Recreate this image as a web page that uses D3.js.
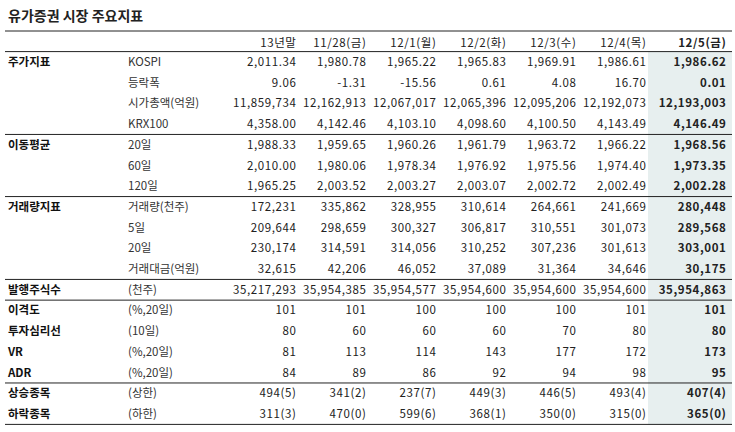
<!DOCTYPE html>
<html><head><meta charset="utf-8">
<script src="https://cdn.jsdelivr.net/npm/d3@7"></script>
<style>body{margin:0;background:#fff}text{font-family:"Noto Sans CJK KR","Noto Sans",sans-serif}</style>
</head><body><div id="chart"></div>
<script>
const dates = ["13년말","11/28(금)","12/1(월)","12/2(화)","12/3(수)","12/4(목)","12/5(금)"];
const groups = ["주가지표","","","","이동평균","","","거래량지표","","","","발행주식수","이격도","투자심리선","VR","ADR","상승종목","하락종목"];
const items = ["KOSPI","등락폭","시가총액(억원)","KRX100","20일","60일","120일","거래량(천주)","5일","20일","거래대금(억원)","(천주)","(%,20일)","(10일)","(%,20일)","(%,20일)","(상한)","(하한)"];
const values = [
  ["2,011.34","1,980.78","1,965.22","1,965.83","1,969.91","1,986.61","1,986.62"],
  ["9.06","-1.31","-15.56","0.61","4.08","16.70","0.01"],
  ["11,859,734","12,162,913","12,067,017","12,065,396","12,095,206","12,192,073","12,193,003"],
  ["4,358.00","4,142.46","4,103.10","4,098.60","4,100.50","4,143.49","4,146.49"],
  ["1,988.33","1,959.65","1,960.26","1,961.79","1,963.72","1,966.22","1,968.56"],
  ["2,010.00","1,980.06","1,978.34","1,976.92","1,975.56","1,974.40","1,973.35"],
  ["1,965.25","2,003.52","2,003.27","2,003.07","2,002.72","2,002.49","2,002.28"],
  ["172,231","335,862","328,955","310,614","264,661","241,669","280,448"],
  ["209,644","298,659","300,327","306,817","310,551","301,073","289,568"],
  ["230,174","314,591","314,056","310,252","307,236","301,613","303,001"],
  ["32,615","42,206","46,052","37,089","31,364","34,646","30,175"],
  ["35,217,293","35,954,385","35,954,577","35,954,600","35,954,600","35,954,600","35,954,863"],
  ["101","101","100","100","100","101","101"],
  ["80","60","60","60","70","80","80"],
  ["81","113","114","143","177","172","173"],
  ["84","89","86","92","94","98","95"],
  ["494(5)","341(2)","237(7)","449(3)","446(5)","493(4)","407(4)"],
  ["311(3)","470(0)","599(6)","368(1)","350(0)","315(0)","365(0)"]
];
const ruleAfter = [3,6,10,11,15];

const W = 735, H = 432;
const svg = d3.select("#chart").append("svg").attr("width", W).attr("height", H);
const y = d3.scaleBand().domain(d3.range(items.length)).range([51.6, 424.4]);
const x = d3.scaleBand().domain(dates.slice(0,6)).range([228, 648]);
const lastX = [648, 732];
const colRight = d => dates.indexOf(d) < 6 ? x(d) + x.bandwidth() - 1.5 : lastX[1] - 5.5;
const fs = 11.5, ls = 0.6;

svg.append("text").attr("x", 8).attr("y", 21).attr("font-size", 14).attr("font-weight", "bold").attr("fill", "#222").text("유가증권 시장 주요지표");

svg.append("rect").attr("x", lastX[0]).attr("y", y.range()[0]).attr("width", lastX[1]-lastX[0]).attr("height", y.range()[1]-y.range()[0]).attr("fill", "#e7efef");

svg.selectAll("text.hd").data(dates).join("text").attr("class","hd")
  .attr("x", colRight).attr("y", 47).attr("text-anchor","end").attr("font-size", fs).attr("letter-spacing", ls)
  .attr("font-weight", (d,i) => i === 6 ? "bold" : null).attr("fill", "#222").text(d => d);

const row = svg.selectAll("g.row").data(values).join("g").attr("class","row")
  .attr("transform", (d,i) => `translate(0,${y(i) + y.bandwidth()/2 + 4})`);
row.append("text").attr("x", 8).attr("font-size", fs).attr("font-weight","bold").attr("fill","#111").text((d,i) => groups[i]);
row.append("text").attr("x", 128).attr("font-size", fs).attr("fill","#333").text((d,i) => items[i]);
row.selectAll("text.v").data(d => d).join("text").attr("class","v")
  .attr("x", (d,j) => colRight(dates[j])).attr("text-anchor","end").attr("font-size", fs).attr("letter-spacing", ls)
  .attr("font-weight", (d,j) => j === 6 ? "bold" : null).attr("fill", "#222").text(d => d);

const rules = [31, y.range()[0]].concat(ruleAfter.map(i => y(i) + y.bandwidth()), [y.range()[1]]);
svg.selectAll("line.r").data(rules).join("line").attr("class","r")
  .attr("x1", 5).attr("x2", lastX[1]).attr("y1", d => d).attr("y2", d => d)
  .attr("stroke", "#222").attr("stroke-width", 1);
</script></body></html>
